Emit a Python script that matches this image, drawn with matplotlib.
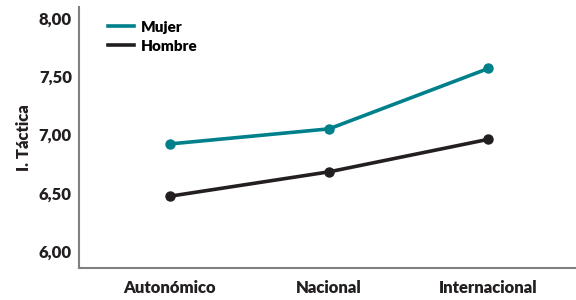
import matplotlib.pyplot as plt

categories = ['Autonómico', 'Nacional', 'Internacional']
mujer = [6.92, 7.05, 7.57]
hombre = [6.47, 6.68, 6.96]
yticks = [6.0, 6.5, 7.0, 7.5, 8.0]
ytick_labels = ['6,00', '6,50', '7,00', '7,50', '8,00']

teal = '#00808a'
dark = '#231f20'
font = ['Lato', 'DejaVu Sans']

fig = plt.figure(figsize=(5.76, 3.0), dpi=100)
ax = fig.add_axes([0.137, 0.107, 0.863, 0.87])

x = range(len(categories))
ax.plot(x, mujer, color=teal, lw=2.6, marker='o', ms=6.5, label='Mujer')
ax.plot(x, hombre, color=dark, lw=2.6, marker='o', ms=6.5, label='Hombre')

ax.set_xlim(-0.57, 2.55)
ax.set_ylim(5.853, 8.10)
ax.set_xticks(list(x))
ax.set_xticklabels(categories, fontsize=12, fontweight='heavy', family=font, color=dark)
ax.set_yticks(yticks)
ax.set_yticklabels(ytick_labels, fontsize=12, fontweight='heavy', family=font, color=dark)
ax.tick_params(length=0, pad=5)
ax.tick_params(axis='x', pad=9)

for s in ['top', 'right']:
    ax.spines[s].set_visible(False)
for s in ['left', 'bottom']:
    ax.spines[s].set_color('#808080')
    ax.spines[s].set_linewidth(1.5)

ax.set_ylabel('I. Táctica', fontsize=12, fontweight='heavy', family=font, color=dark, labelpad=5)

leg = ax.legend(loc='upper left', bbox_to_anchor=(0.03, 1.0), frameon=False,
                handlelength=1.7, handletextpad=0.5, labelspacing=0.4,
                prop={'family': font, 'weight': 'heavy', 'size': 11})
for h in leg.legend_handles:
    h.set_marker('')

fig.savefig('out.png', dpi=100)
